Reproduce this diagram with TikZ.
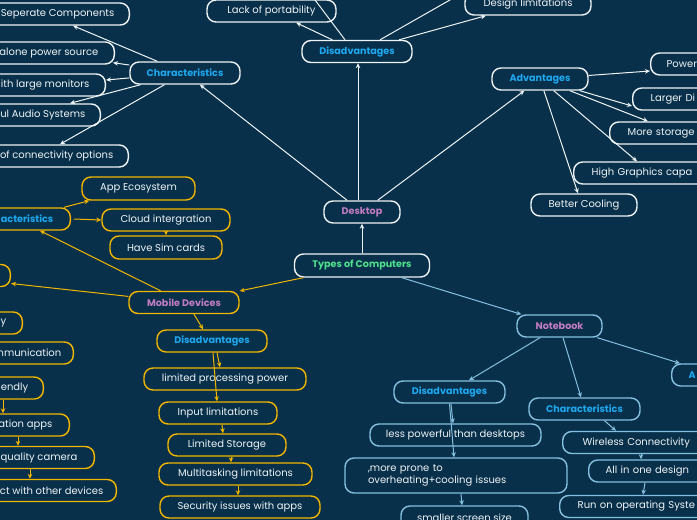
\documentclass[tikz,border=0pt]{standalone}
\usepackage{fontspec}
\setmainfont{Poppins}
\usetikzlibrary{arrows.meta}
\definecolor{bg}{HTML}{08304A}
\definecolor{wht}{HTML}{EEF3F6}
\definecolor{org}{HTML}{F2B600}
\definecolor{lbl}{HTML}{86C0DF}
\definecolor{tblue}{HTML}{1FA8F0}
\definecolor{pnk}{HTML}{C27CC2}
\definecolor{grn}{HTML}{4FE08E}
\definecolor{txt}{HTML}{EEF3F6}
\tikzset{
  box/.style={draw, rounded corners=9pt, minimum height=22pt, line width=1.4pt,
    text=txt, fill=bg, inner xsep=10pt, inner ysep=2pt},
  wb/.style={box, draw=wht},
  ob/.style={box, draw=org},
  bb/.style={box, draw=lbl},
  ttl/.style={font=\fontsize{9.6}{11}\selectfont\bfseries, text=tblue},
  topic/.style={font=\fontsize{9.6}{11}\selectfont\bfseries, text=pnk},
  cutl/.style={anchor=east, inner xsep=#1},
  cutr/.style={anchor=west, inner xsep=#1, text width=130pt, align=left},
  tip/.style={-{Stealth[length=5pt,width=4.5pt]}},
  wa/.style={tip, draw=wht, line width=1pt},
  oa/.style={tip, draw=org, line width=1pt},
  ba/.style={tip, draw=lbl, line width=1pt},
}
\begin{document}
\begin{tikzpicture}[x=1pt,y=-1pt,font=\fontsize{10}{12}\selectfont]
\fill[bg] (0,0) rectangle (697,520);
\useasboundingbox (0,0) rectangle (697,520);

% ---------- root and desktop ----------
\node[wb, minimum width=135pt, minimum height=23pt, font=\fontsize{9.6}{11}\selectfont\bfseries, text=grn] (root) at (362,265.5) {Types of Computers};
\node[wb, minimum width=76pt, topic] (desk) at (362,212) {Desktop};
\node[wb, minimum width=110pt, ttl] (ddis) at (357,51.5) {Disadvantages};
\node[wb, minimum width=129pt] (lack) at (271.5,11) {Lack of portability};
\node[wb, minimum width=126pt] (design) at (528,4) {Design limitations};
\coordinate (offa) at (300,-20);
\coordinate (offb) at (485,-20);
\node[wb, minimum width=110pt, ttl] (dchar) at (185,73) {Characteristics};
\node[wb, cutl=15pt] (sep) at (130,14) {Seperate Components};
\node[wb, cutl=16pt] (alone) at (115,53) {alone power source};
\node[wb, cutl=16pt] (monit) at (106,85) {ith large monitors};
\node[wb, cutl=15pt] (audio) at (101,115) {ul Audio Systems};
\node[wb, cutl=15pt] (conn) at (129,156) {of connectivity options};
\node[wb, minimum width=96pt, ttl] (adv) at (540,79) {Advantages};
\node[wb, cutr=16pt] (power) at (650,64) {Power};
\node[wb, cutr=18pt] (larger) at (632,99) {Larger Di};
\node[wb, cutr=18pt] (storage) at (609,133) {More storage};
\node[wb, cutr=18pt] (graph) at (573,173) {High Graphics capa};
\node[wb, minimum width=106pt] (cool) at (584,205) {Better Cooling};

% ---------- mobile ----------
\node[ob, minimum width=110pt, topic] (mob) at (184,302.5) {Mobile Devices};
\node[ob, cutl=17pt, ttl] (mchar) at (71,219) {acteristics};
\node[ob, minimum width=113pt, minimum height=23pt] (app) at (138.5,188.5) {App Ecosystem};
\node[ob, minimum width=128pt] (cloud) at (166,220) {Cloud intergration};
\node[ob, minimum width=112pt, minimum height=23pt] (sim) at (166,247.5) {Have Sim cards};
\node[ob, cutl=20pt, minimum width=50pt] (madv) at (11,275.5) {};
\node[ob, cutl=16pt] (porta) at (23,323) {y};
\node[ob, cutl=12pt] (comm) at (74,353) {mmunication};
\node[ob, cutl=15pt] (frnd) at (44,388) {endly};
\node[ob, cutl=17pt] (apps) at (70,425) {ation apps};
\node[ob, cutl=17pt] (cam) at (95,457.5) {quality camera};
\node[ob, cutl=13pt] (devs) at (117,490.5) {ct with other devices};
\node[ob, minimum width=110pt, ttl] (mdis) at (212,341) {Disadvantages};
\node[ob, minimum width=162pt] (lpp) at (225,379) {limited processing power};
\node[ob, minimum width=118pt] (input) at (218,413) {Input limitations};
\node[ob, minimum width=118pt] (lstor) at (227,445) {Limited Storage};
\node[ob, minimum width=153pt] (multi) at (235.5,474) {Multitasking limitations};
\node[ob, minimum width=160pt] (sec) at (240,507) {Security issues with apps};

% ---------- notebook ----------
\node[bb, minimum width=85pt, topic] (nb) at (559.5,326) {Notebook};
\node[bb, minimum width=111pt, ttl] (ndis) at (449.5,392) {Disadvantages};
\node[bb, minimum width=111pt, ttl] (nchar) at (584.5,409) {Characteristics};
\node[bb, cutr=17pt, ttl] (nadv) at (671,375) {A};
\node[bb, minimum width=171pt] (less) at (455.5,435) {less powerful than desktops};
\node[bb, minimum height=35pt, text width=176pt, inner xsep=23pt, align=left] (prone) at (456,475.5) {,more prone to\\overheating+cooling issues};
\node[bb, minimum width=127pt, minimum height=23pt] (small) at (464.5,517.5) {smaller screen size};
\node[bb, cutr=20pt] (wire) at (562,442.5) {Wireless Connectivity};
\node[bb, cutr=17pt] (allone) at (588,471) {All in one design};
\node[bb, cutr=18pt] (run) at (559,506.5) {Run on operating Syste};

% ---------- desktop connectors ----------
\draw[wa] (root) -- (desk);
\draw[wa] ([xshift=-4pt]desk.north) -- ([xshift=1pt]ddis.south);
\draw[wa] (desk) -- (dchar);
\draw[wa] (desk) -- (adv);
\draw[wa] (ddis) -- (lack);
\draw[wa] (ddis) -- (design);
\draw[wa] ([xshift=-12pt]ddis.north) -- (offa);
\draw[wa] ([xshift=23pt]ddis.north) -- (offb);
\draw[wa] (dchar) -- ([xshift=-57pt]sep.south east);
\draw[wa] (dchar) -- ([xshift=-2pt,yshift=2pt]alone.south east);
\draw[wa] (dchar) -- ([yshift=5pt]monit.east);
\draw[wa] (dchar) -- ([xshift=-31pt]audio.north east);
\draw[wa] (dchar) -- ([xshift=-69pt]conn.north east);
\draw[wa] (adv) -- ([yshift=-7pt]power.west);
\draw[wa] (adv) -- ([yshift=-7pt]larger.west);
\draw[wa] (adv) -- ([xshift=39pt]storage.north west);
\draw[wa] (adv) -- ([xshift=64pt]graph.north west);
\draw[wa] (adv) -- ([xshift=-6pt]cool.north);

% ---------- mobile connectors ----------
\draw[oa] (root) -- (mob);
\draw[oa] (mob) -- ([xshift=-31pt]mchar.south east);
\draw[oa] (mob) -- ([yshift=-8pt]madv.east);
\draw[oa] ([xshift=-7pt]mchar.north east) -- ([xshift=8pt]app.south west);
\draw[oa] ([xshift=3pt]mchar.east) -- (cloud.west);
\draw[oa] (cloud.south) -- (sim.north);
\draw[oa] ([xshift=-41pt]frnd.south east) -- ([xshift=-67pt]apps.north east);
\draw[oa] ([xshift=-52pt]apps.south east) -- ([xshift=-77pt]cam.north east);
\draw[oa] ([xshift=-65pt]cam.south east) -- ([xshift=-87pt]devs.north east);
\draw[oa] ([xshift=10pt]mob.south) -- ([xshift=-9pt]mdis.north);
\draw[oa] ([xshift=5pt]mdis.south) -- ([xshift=-5pt]lpp.north);
\draw[oa] ([xshift=1pt]mdis.south) -- ([xshift=-1pt]input.north);
\draw[oa] ([xshift=4pt]input.south) -- ([xshift=-4pt]lstor.north);
\draw[oa] ([xshift=4pt]lstor.south) -- ([xshift=-4.5pt]multi.north);
\draw[oa] ([xshift=2.5pt]multi.south) -- ([xshift=-2pt]sec.north);

% ---------- notebook connectors ----------
\draw[ba] (root) -- (nb);
\draw[ba] (nb) -- (ndis);
\draw[ba] (nb) -- (nchar);
\draw[ba] (nb) -- ([xshift=9pt]nadv.north west);
\draw[ba] ([xshift=1.5pt]ndis.south) -- ([xshift=-2.5pt]less.north);
\draw[ba] ([xshift=0pt]ndis.south) -- ([xshift=-2pt]prone.north);
\draw[ba] ([xshift=5pt]prone.south) -- ([xshift=-2.5pt]small.north);
\draw[ba] ([xshift=20pt]nchar.south) -- ([xshift=54pt]wire.north west);
\draw[ba] ([xshift=79pt]wire.south west) -- ([xshift=53pt]allone.north west);
\draw[ba] ([xshift=57pt]allone.south west) -- ([xshift=84pt]run.north west);
\end{tikzpicture}
\end{document}
